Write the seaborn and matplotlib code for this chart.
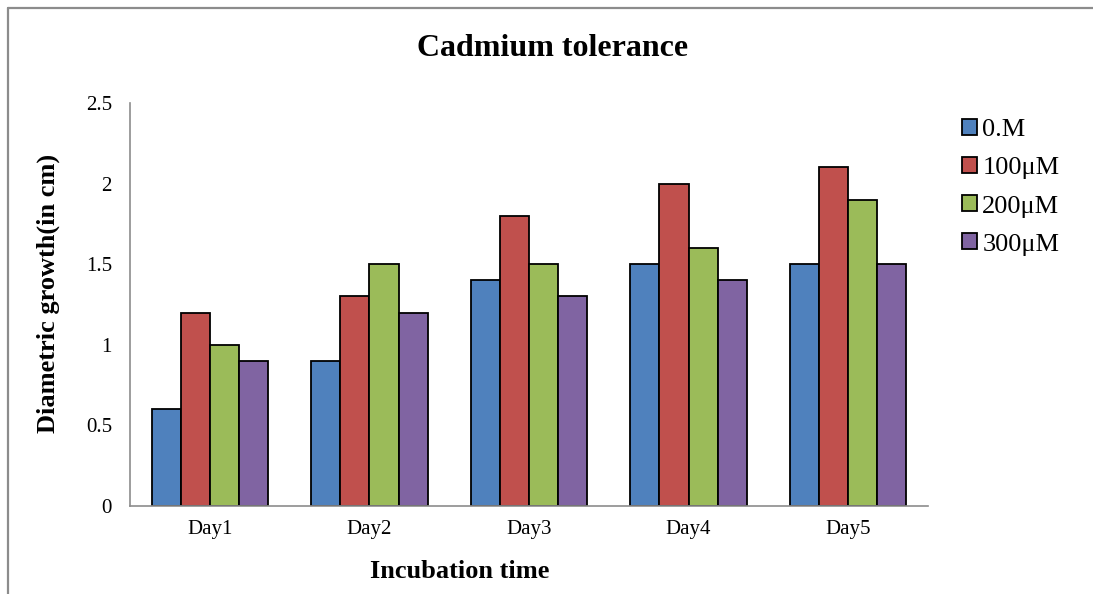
import matplotlib
matplotlib.use("Agg")
import matplotlib.pyplot as plt
import seaborn as sns
import pandas as pd
from matplotlib.lines import Line2D

days = ["Day1", "Day2", "Day3", "Day4", "Day5"]
series = ["0.M", "100\u03bcM", "200\u03bcM", "300\u03bcM"]
v_0 = [0.6, 0.9, 1.4, 1.5, 1.5]
v_100 = [1.2, 1.3, 1.8, 2.0, 2.1]
v_200 = [1.0, 1.5, 1.5, 1.6, 1.9]
v_300 = [0.9, 1.2, 1.3, 1.4, 1.5]
colors = ["#4F81BD", "#C0504D", "#9BBB59", "#8064A2"]
yticks = [0, 0.5, 1, 1.5, 2, 2.5]
ytick_labels = ["0", "0.5", "1", "1.5", "2", "2.5"]

rows = []
for s, vals in zip(series, [v_0, v_100, v_200, v_300]):
    for d, v in zip(days, vals):
        rows.append({"Day": d, "Series": s, "Value": v})
df = pd.DataFrame(rows)

sns.set_theme(style="white")
plt.rcParams["font.family"] = ["Liberation Serif", "DejaVu Serif"]
plt.rcParams["text.color"] = "black"
plt.rcParams["xtick.color"] = "black"
plt.rcParams["ytick.color"] = "black"

fig = plt.figure(figsize=(10.93, 5.94), dpi=100)
ax = fig.add_axes([130 / 1093, 1 - 506 / 594, (928 - 130) / 1093, (506 - 103) / 594])

sns.barplot(data=df, x="Day", y="Value", hue="Series", order=days, hue_order=series,
            palette=colors, width=0.73, edgecolor="black", linewidth=1.3,
            saturation=1, ax=ax)

ax.set_ylim(0, 2.5)
ax.set_xlim(-0.5, 4.5)
ax.set_yticks(yticks)
ax.set_yticklabels(ytick_labels)
ax.tick_params(axis="y", length=0, pad=13, labelsize=15, labelcolor="black")
ax.tick_params(axis="x", length=0, pad=10, labelsize=15, labelcolor="black")
ax.set_xlabel("")
ax.set_ylabel("")
for side in ["top", "right"]:
    ax.spines[side].set_visible(False)
for side in ["left", "bottom"]:
    ax.spines[side].set_color("#8C8C8C")
    ax.spines[side].set_linewidth(1.2)

handles, labels = ax.get_legend_handles_labels()
leg = ax.legend(handles, labels, loc="upper left", bbox_to_anchor=(962 / 1093, 1 - 119 / 594),
                bbox_transform=fig.transFigure, frameon=False, fontsize=19,
                handlelength=0.55, handleheight=0.55, handletextpad=0.22,
                labelspacing=0.6, borderpad=0, borderaxespad=0)
for t in leg.get_texts():
    t.set_color("black")

fig.text(553 / 1093, 1 - 48 / 594, "Cadmium tolerance", ha="center", va="center",
         fontsize=23, fontweight="bold", color="black")
fig.text(460 / 1093, 1 - 571 / 594, "Incubation time", ha="center", va="center",
         fontsize=19, fontweight="bold", color="black")
fig.text(48 / 1093, 1 - 293 / 594, "Diametric growth(in cm)", ha="center", va="center",
         rotation=90, fontsize=19, fontweight="bold", color="black")

# outer chart border (left and top visible)
fig.add_artist(Line2D([7.5 / 1093, 7.5 / 1093], [0, 1 - 7.5 / 594], transform=fig.transFigure,
                      color="#8C8C8C", linewidth=1.6))
fig.add_artist(Line2D([7.5 / 1093, 1], [1 - 7.5 / 594, 1 - 7.5 / 594], transform=fig.transFigure,
                      color="#8C8C8C", linewidth=1.6))

fig.savefig("out.png", dpi=100)
